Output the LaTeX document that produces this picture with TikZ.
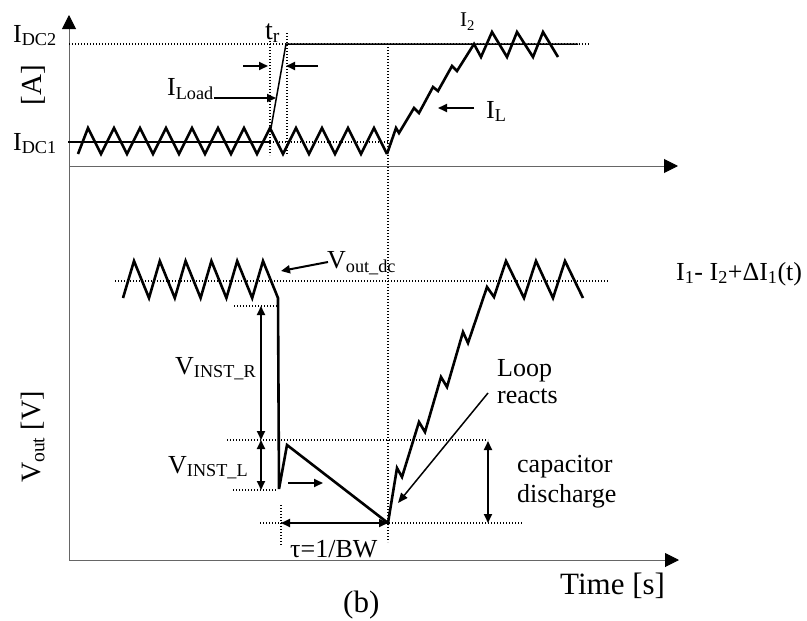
\documentclass[tikz,border=0pt]{standalone}
\usepackage{fontspec}
\setmainfont{Liberation Serif}
\usepackage{tikz}
\usetikzlibrary{arrows.meta,calc}
\definecolor{AxGray}{HTML}{666666}
\tikzset{
  axisline/.style={draw=AxGray,line width=1pt,-{Triangle[length=14pt,width=14pt,color=black]}},
  dotline/.style={line width=1.3pt,dash pattern=on 1.4pt off 1.6pt},
  wave/.style={line width=2.6pt},
  thinline/.style={line width=1.5pt},
  lblarr/.style={line width=2pt,-{Triangle[length=9pt,width=8pt]}},
  thinarr/.style={line width=1.5pt,-{Triangle[length=10pt,width=8pt]}},
  dimarr/.style={line width=2pt,{Triangle[length=9pt,width=8pt]}-{Triangle[length=9pt,width=8pt]}},
  lbl/.style={inner sep=0pt,anchor=base west,font=\fontsize{26}{27}\selectfont},
  biglbl/.style={lbl,font=\fontsize{31}{33}\selectfont},
  smalllbl/.style={lbl,font=\fontsize{21}{23}\selectfont},
}

\begin{document}
\begin{tikzpicture}[x=1pt,y=-1pt]
  \useasboundingbox (0,0) rectangle (807,621);

  % axes
  \coordinate (org) at (69,560);
  \draw[axisline] (org) -- (69,15);
  \draw[axisline] (69,166) -- (678,166);
  \draw[axisline] (org) -- (679,560);

  % current trace
  \draw[dotline] (69,44) -- (590,44);
  \draw[dotline] (270,142) -- (388,142);
  \draw[dotline] (270,38) -- (270,155);
  \draw[dotline] (287,33) -- (287,155);
  \draw[dotline] (388,44) -- (388,542);
  \draw[thinline] (68,142) -- (270,142);
  \draw[thinline] (271,128) -- (286,44) -- (578,44);
  \draw[wave] (78,154) \foreach \k in {0,...,11}{ -- ({88+26*\k},128) -- ({101+26*\k},154) };
  \coordinate (iL0) at (387,154);
  \draw[wave] (iL0) -- (396,128) -- (399,133) -- (414,108) -- (419,113) -- (433,87)
    -- (438,91) -- (452,66) -- (457,71) -- (474,44) -- (481,57) -- (492,32) -- (507,57)
    -- (517,32) -- (533,57) -- (543,32) -- (558,57);

  \node[lbl] (idc2) at (13,42) {I\textsubscript{DC2}};
  \node[lbl] (idc1) at (13,150) {I\textsubscript{DC1}};
  \node[lbl,anchor=center,rotate=90,font=\fontsize{29}{30}\selectfont] (iunit) at (33,85) {[A]};
  \node[lbl,font=\fontsize{28}{29}\selectfont] (tr) at (265,39) {t\textsubscript{r}};
  \node[lbl] (iload) at (167,95) {I\textsubscript{Load}};
  \node[smalllbl] (i2) at (460,27) {I\textsubscript{2}};
  \node[lbl] (il) at (486,118) {I\textsubscript{L}};

  \coordinate (trl) at (243,66);
  \coordinate (trlt) at (268,66);
  \coordinate (trr) at (318,66);
  \coordinate (trrt) at (286,66);
  \draw[lblarr] (trl) -- (trlt);
  \draw[lblarr] (trr) -- (trrt);
  \coordinate (iloadt) at (276,98);
  \draw[lblarr] (iload.east |- iloadt) -- (iloadt);
  \coordinate (ilt) at (438,108);
  \draw[lblarr] (474,108) -- (ilt);

  % output voltage trace
  \draw[dotline] (115,281) -- (608,281);
  \draw[dotline] (234,306) -- (277,306);
  \draw[dotline] (227,440) -- (488,440);
  \draw[dotline] (233,490) -- (277,490);
  \draw[dotline] (260,523) -- (522,523);
  \draw[dotline] (281,505) -- (281,546);
  \draw[wave] (123,298) \foreach \k in {0,...,4}{ -- ({134+25.8*\k},261) -- ({149+25.8*\k},298) }
    -- (263,261) -- (278,298) -- (279,489) -- (287,445) -- (388,523) -- (397,468) -- (402,477)
    -- (419,422) -- (425,432) -- (441,377) -- (447,387) -- (463,332) -- (468,343) -- (487,287)
    -- (494,297) -- (506,261) -- (524,298) -- (536,261) -- (553,298) -- (565,261) -- (583,298);

  \node[lbl] (voutdc) at (327,268) {V\textsubscript{out\_dc}};
  \node[lbl] (dI) at (676,280) {I\textsubscript{1}- I\textsubscript{2}+ΔI\textsubscript{1}(t)};
  \node[lbl] (vinstr) at (175,374) {V\textsubscript{INST\_R}};
  \node[lbl] (vinstl) at (168,473) {V\textsubscript{INST\_L}};
  \node[lbl,align=left] (loop) at (497,403) {Loop\\reacts};
  \node[lbl,align=left,font=\fontsize{26}{30}\selectfont] (cap) at (517,502) {capacitor\\discharge};
  \node[lbl] (tau) at (290,557) {τ=1/BW};
  \node[lbl,anchor=center,rotate=90,font=\fontsize{28}{29}\selectfont] (vunit) at (33,437) {V\textsubscript{out} [V]};
  \node[biglbl] (time) at (560,594) {Time [s]};
  \node[biglbl] (caption) at (343,612) {(b)};

  \coordinate (voutdct) at (281,271);
  \draw[lblarr] (328,262) -- (voutdct);
  \coordinate (vr1) at (261,306);
  \coordinate (vr2) at (261,440);
  \coordinate (vl2) at (261,490);
  \draw[dimarr] (vr1) -- (vr2);
  \draw[dimarr] (vr2) -- (vl2);
  \coordinate (stepa) at (288,483);
  \coordinate (stepb) at (323,483);
  \draw[lblarr] (stepa) -- (stepb);
  \coordinate (taua) at (281,523);
  \coordinate (taub) at (388,523);
  \draw[dimarr] (taua) -- (taub);
  \coordinate (capa) at (488,441);
  \coordinate (capb) at (488,523);
  \draw[dimarr] (capa) -- (capb);
  \coordinate (loopt) at (398,503);
  \draw[thinarr] (488,393) -- (loopt);
\end{tikzpicture}
\end{document}
